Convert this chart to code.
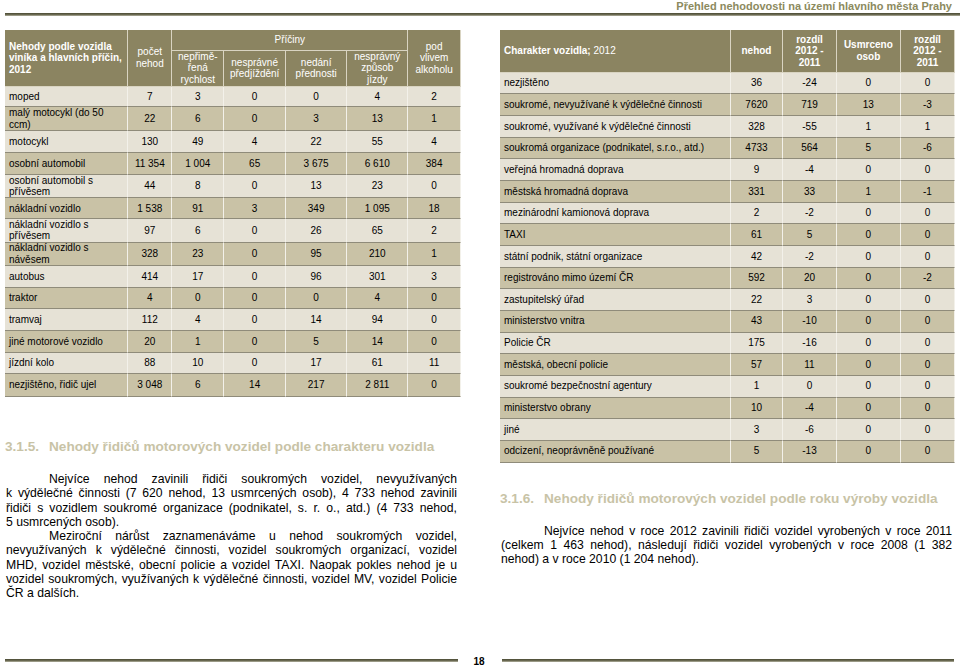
import React from "react";

// Left table: accidents by vehicle of the culprit and main causes, 2012
const leftVehicles = [
  "moped",
  "malý motocykl (do 50 ccm)",
  "motocykl",
  "osobní automobil",
  "osobní automobil s přívěsem",
  "nákladní vozidlo",
  "nákladní vozidlo s přívěsem",
  "nákladní vozidlo s návěsem",
  "autobus",
  "traktor",
  "tramvaj",
  "jiné motorové vozidlo",
  "jízdní kolo",
  "nezjištěno, řidič ujel",
];
const leftCount = [7, 22, 130, 11354, 44, 1538, 97, 328, 414, 4, 112, 20, 88, 3048];
const leftSpeed = [3, 6, 49, 1004, 8, 91, 6, 23, 17, 0, 4, 1, 10, 6];
const leftOvertaking = [0, 0, 4, 65, 0, 3, 0, 0, 0, 0, 0, 0, 0, 14];
const leftPriority = [0, 3, 22, 3675, 13, 349, 26, 95, 96, 0, 14, 5, 17, 217];
const leftDriving = [4, 13, 55, 6610, 23, 1095, 65, 210, 301, 4, 94, 14, 61, 2811];
const leftAlcohol = [2, 1, 4, 384, 0, 18, 2, 1, 3, 0, 0, 0, 11, 0];
const leftRowHeights = [20.6, 23.7, 22.3, 21.7, 23.3, 21, 23.4, 23.3, 21.7, 21.6, 21.7, 21.7, 21.6, 22.4];

// Right table: vehicle character, 2012
const rightCategories = [
  "nezjištěno",
  "soukromé, nevyužívané k výdělečné činnosti",
  "soukromé, využívané k výdělečné činnosti",
  "soukromá organizace (podnikatel, s.r.o., atd.)",
  "veřejná hromadná doprava",
  "městská hromadná doprava",
  "mezinárodní kamionová doprava",
  "TAXI",
  "státní podnik, státní organizace",
  "registrováno mimo území ČR",
  "zastupitelský úřad",
  "ministerstvo vnitra",
  "Policie ČR",
  "městská, obecní policie",
  "soukromé bezpečnostní agentury",
  "ministerstvo obrany",
  "jiné",
  "odcizení, neoprávněně používané",
];
const rightAccidents = [36, 7620, 328, 4733, 9, 331, 2, 61, 42, 592, 22, 43, 175, 57, 1, 10, 3, 5];
const rightAccidentsDiff = [-24, 719, -55, 564, -4, 33, -2, 5, -2, 20, 3, -10, -16, 11, 0, -4, -6, -13];
const rightKilled = [0, 13, 1, 5, 0, 1, 0, 0, 0, 0, 0, 0, 0, 0, 0, 0, 0, 0];
const rightKilledDiff = [0, -3, 1, -6, 0, -1, 0, 0, 0, -2, 0, 0, 0, 0, 0, 0, 0, 0];

// body text, broken the way the page breaks it
const para315a = [
  "Nejvíce nehod zavinili řidiči soukromých vozidel, nevyužívaných",
  "k\u00a0výdělečné činnosti (7\u00a0620 nehod, 13 usmrcených osob), 4\u00a0733 nehod zavinili",
  "řidiči s\u00a0vozidlem soukromé organizace (podnikatel, s. r. o., atd.) (4\u00a0733 nehod,",
  "5 usmrcených osob).",
];
const para315b = [
  "Meziroční nárůst zaznamenáváme u nehod soukromých vozidel,",
  "nevyužívaných k\u00a0výdělečné činnosti, vozidel soukromých organizací, vozidel",
  "MHD, vozidel městské, obecní policie a vozidel TAXI. Naopak pokles nehod je u",
  "vozidel soukromých, využívaných k výdělečné činnosti, vozidel MV, vozidel Policie",
  "ČR a dalších.",
];
const para316 = [
  "Nejvíce nehod v\u00a0roce 2012 zavinili řidiči vozidel vyrobených v\u00a0roce 2011",
  "(celkem 1\u00a0463 nehod), následují řidiči vozidel vyrobených v\u00a0roce 2008 (1\u00a0382",
  "nehod) a v\u00a0roce 2010 (1\u00a0204 nehod).",
];

const FONT = "Arial, 'Liberation Sans', sans-serif";
const HEAD_BG = "#8b8461";
const ROW_LIGHT = "#e6e2d6";
const ROW_DARK = "#c9c2a6";
const HEADING = "#c8c3a6";

const LEFT_COLS = [123.3, 44, 52, 61.7, 61.3, 61, 52.7];
const RIGHT_COLS = [230.7, 52.6, 53.4, 64.3, 54];

// 11354 -> "11 354"
function grouped(n: number) {
  return String(n).replace(/\B(?=(\d{3})+(?!\d))/g, "\u00a0");
}

function Cell({
  w,
  children,
  left,
}: {
  w: number;
  children: React.ReactNode;
  left?: boolean;
}) {
  return (
    <div
      style={{
        width: w,
        height: "100%",
        boxSizing: "border-box",
        borderRight: "1px solid #f3f1ea",
        borderBottom: "1px solid #8f8b7a",
        display: "flex",
        alignItems: "center",
        justifyContent: left ? "flex-start" : "center",
        textAlign: left ? "left" : "center",
        paddingLeft: left ? 4 : 0,
        paddingRight: left ? 4 : 0,
        lineHeight: "11.5px",
      }}
    >
      {children}
    </div>
  );
}

function HeadBox({
  x,
  y,
  w,
  h,
  children,
  left,
  bold,
}: {
  x: number;
  y: number;
  w: number;
  h: number;
  children: React.ReactNode;
  left?: boolean;
  bold?: boolean;
}) {
  return (
    <div
      style={{
        position: "absolute",
        left: x,
        top: y,
        width: w,
        height: h,
        boxSizing: "border-box",
        borderRight: "1px solid #d9d4c2",
        borderBottom: "1px solid #d9d4c2",
        display: "flex",
        alignItems: "center",
        justifyContent: left ? "flex-start" : "center",
        textAlign: left ? "left" : "center",
        paddingLeft: left ? 4 : 0,
        color: "#fff",
        fontWeight: bold ? "bold" : "normal",
        lineHeight: "11.5px",
      }}
    >
      {children}
    </div>
  );
}

function LeftTable() {
  const xs = LEFT_COLS.reduce<number[]>((acc, w, i) => {
    acc.push(i === 0 ? 0 : acc[i - 1] + LEFT_COLS[i - 1]);
    return acc;
  }, []);
  const total = LEFT_COLS.reduce((a, b) => a + b, 0);
  const headH = 56.7;
  const topH = 20.7;
  return (
    <div style={{ position: "absolute", left: 5, top: 30, width: total, fontSize: 10 }}>
      <div style={{ position: "relative", height: headH, background: HEAD_BG }}>
        <HeadBox x={xs[0]} y={0} w={LEFT_COLS[0]} h={headH} left bold>
          Nehody podle vozidla viníka a hlavních příčin, 2012
        </HeadBox>
        <HeadBox x={xs[1]} y={0} w={LEFT_COLS[1]} h={headH}>
          počet
          <br />
          nehod
        </HeadBox>
        <HeadBox x={xs[2]} y={0} w={xs[6] - xs[2]} h={topH}>
          Příčiny
        </HeadBox>
        <HeadBox x={xs[2]} y={topH} w={LEFT_COLS[2]} h={headH - topH}>
          nepřimě-
          <br />
          řená
          <br />
          rychlost
        </HeadBox>
        <HeadBox x={xs[3]} y={topH} w={LEFT_COLS[3]} h={headH - topH}>
          nesprávné
          <br />
          předjíždění
        </HeadBox>
        <HeadBox x={xs[4]} y={topH} w={LEFT_COLS[4]} h={headH - topH}>
          nedání
          <br />
          přednosti
        </HeadBox>
        <HeadBox x={xs[5]} y={topH} w={LEFT_COLS[5]} h={headH - topH}>
          nesprávný
          <br />
          způsob
          <br />
          jízdy
        </HeadBox>
        <HeadBox x={xs[6]} y={0} w={LEFT_COLS[6]} h={headH}>
          pod
          <br />
          vlivem
          <br />
          alkoholu
        </HeadBox>
      </div>
      {leftVehicles.map((name, i) => (
        <div
          key={name}
          style={{
            display: "flex",
            height: leftRowHeights[i],
            background: i % 2 === 0 ? ROW_LIGHT : ROW_DARK,
          }}
        >
          <Cell w={LEFT_COLS[0]} left>
            {name}
          </Cell>
          <Cell w={LEFT_COLS[1]}>{grouped(leftCount[i])}</Cell>
          <Cell w={LEFT_COLS[2]}>{grouped(leftSpeed[i])}</Cell>
          <Cell w={LEFT_COLS[3]}>{grouped(leftOvertaking[i])}</Cell>
          <Cell w={LEFT_COLS[4]}>{grouped(leftPriority[i])}</Cell>
          <Cell w={LEFT_COLS[5]}>{grouped(leftDriving[i])}</Cell>
          <Cell w={LEFT_COLS[6]}>{grouped(leftAlcohol[i])}</Cell>
        </div>
      ))}
    </div>
  );
}

function RightTable() {
  const xs = RIGHT_COLS.reduce<number[]>((acc, w, i) => {
    acc.push(i === 0 ? 0 : acc[i - 1] + RIGHT_COLS[i - 1]);
    return acc;
  }, []);
  const total = RIGHT_COLS.reduce((a, b) => a + b, 0);
  const headH = 42.7;
  return (
    <div style={{ position: "absolute", left: 500, top: 30, width: total, fontSize: 10 }}>
      <div style={{ position: "relative", height: headH, background: HEAD_BG }}>
        <HeadBox x={xs[0]} y={0} w={RIGHT_COLS[0]} h={headH} left>
          <span>
            <b>Charakter vozidla;</b> 2012
          </span>
        </HeadBox>
        <HeadBox x={xs[1]} y={0} w={RIGHT_COLS[1]} h={headH} bold>
          nehod
        </HeadBox>
        <HeadBox x={xs[2]} y={0} w={RIGHT_COLS[2]} h={headH} bold>
          rozdíl
          <br />
          2012 -
          <br />
          2011
        </HeadBox>
        <HeadBox x={xs[3]} y={0} w={RIGHT_COLS[3]} h={headH} bold>
          Usmrceno
          <br />
          osob
        </HeadBox>
        <HeadBox x={xs[4]} y={0} w={RIGHT_COLS[4]} h={headH} bold>
          rozdíl
          <br />
          2012 -
          <br />
          2011
        </HeadBox>
      </div>
      {rightCategories.map((name, i) => (
        <div
          key={name}
          style={{
            display: "flex",
            height: 21.67,
            background: i % 2 === 0 ? ROW_LIGHT : ROW_DARK,
          }}
        >
          <Cell w={RIGHT_COLS[0]} left>
            {name}
          </Cell>
          <Cell w={RIGHT_COLS[1]}>{rightAccidents[i]}</Cell>
          <Cell w={RIGHT_COLS[2]}>{rightAccidentsDiff[i]}</Cell>
          <Cell w={RIGHT_COLS[3]}>{rightKilled[i]}</Cell>
          <Cell w={RIGHT_COLS[4]}>{rightKilledDiff[i]}</Cell>
        </div>
      ))}
    </div>
  );
}

function Rule({ x, y, w }: { x: number; y: number; w: number }) {
  return (
    <div
      style={{
        position: "absolute",
        left: x,
        top: y,
        width: w,
        height: 3,
        background: "linear-gradient(#4a4a34, #6e6d55 60%, #b9b8a8)",
      }}
    />
  );
}

function Heading({ x, y, num, text }: { x: number; y: number; num: string; text: string }) {
  return (
    <div
      style={{
        position: "absolute",
        left: x,
        top: y,
        color: HEADING,
        fontWeight: "bold",
        fontSize: 13.6,
        lineHeight: "16px",
        whiteSpace: "nowrap",
      }}
    >
      <span style={{ display: "inline-block", width: 44 }}>{num}</span>
      {text}
    </div>
  );
}

// one paragraph, each line justified to the full width except the last
function Paragraph({ lines }: { lines: string[] }) {
  return (
    <div>
      {lines.map((line, i) => (
        <div
          key={i}
          style={{
            fontSize: 12.2,
            lineHeight: "14.3px",
            height: 14.3,
            whiteSpace: "nowrap",
            textAlign: "justify",
            textAlignLast: i < lines.length - 1 ? "justify" : "left",
            paddingLeft: i === 0 ? 43 : 0,
          }}
        >
          {line}
        </div>
      ))}
    </div>
  );
}

export default function App() {
  return (
    <div
      style={{
        position: "absolute",
        left: 0,
        top: 0,
        width: 960,
        height: 666,
        background: "#fff",
        overflow: "hidden",
        fontFamily: FONT,
        color: "#000",
      }}
    >
      <div
        style={{
          position: "absolute",
          right: 8,
          top: 0,
          fontSize: 11,
          lineHeight: "12px",
          fontWeight: "bold",
          color: "#8c8a5e",
          whiteSpace: "nowrap",
        }}
      >
        Přehled nehodovosti na území hlavního města Prahy
      </div>
      <Rule x={5} y={13} w={955} />

      <LeftTable />
      <RightTable />

      <Heading x={5} y={439} num="3.1.5." text="Nehody řidičů motorových vozidel podle charakteru vozidla" />
      <div style={{ position: "absolute", left: 6, top: 472, width: 451 }}>
        <Paragraph lines={para315a} />
        <Paragraph lines={para315b} />
      </div>

      <Heading x={500} y={491} num="3.1.6." text="Nehody řidičů motorových vozidel podle roku výroby vozidla" />
      <div style={{ position: "absolute", left: 501, top: 523.5, width: 451 }}>
        <Paragraph lines={para316} />
      </div>

      <Rule x={5} y={658.5} w={453} />
      <Rule x={502} y={658.5} w={452} />
      <div
        style={{
          position: "absolute",
          left: 460,
          width: 38,
          top: 656,
          textAlign: "center",
          fontSize: 10,
          fontWeight: "bold",
        }}
      >
        18
      </div>
    </div>
  );
}
